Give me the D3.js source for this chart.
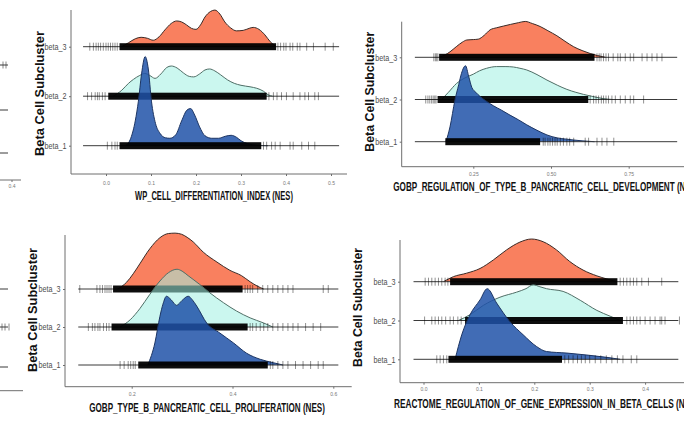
<!DOCTYPE html>
<html><head><meta charset="utf-8">
<script src="https://cdn.jsdelivr.net/npm/d3@7"></script>
<style>body{margin:0;background:#fff;}svg{display:block;}</style>
</head><body>
<svg id="chart" width="684" height="423"></svg>
<script>
// ---------------- DATA ----------------
const categories = ["beta_1", "beta_2", "beta_3"];

// Panel titles
const titleP1 = "WP_CELL_DIFFERENTIATION_INDEX (NES)";
const titleP2 = "GOBP_REGULATION_OF_TYPE_B_PANCREATIC_CELL_DEVELOPMENT (NES)";
const titleP3 = "GOBP_TYPE_B_PANCREATIC_CELL_PROLIFERATION (NES)";
const titleP4 = "REACTOME_REGULATION_OF_GENE_EXPRESSION_IN_BETA_CELLS (NES)";
const yTitle = "Beta Cell Subcluster";

// Tick values
const ticksP1 = [0.0, 0.1, 0.2, 0.3, 0.4, 0.5];
const ticksP2 = [0.25, 0.50, 0.75];
const ticksP3 = [0.2, 0.4, 0.6];
const ticksP4 = [0.0, 0.1, 0.2, 0.3, 0.4];

// Density ridges: [NES, density height in ridge-row units]
const p1Beta1 = [[0.044,0],[0.055,0.15],[0.065,0.5],[0.072,0.9],[0.079,1.45],[0.087,1.8],[0.094,1.55],[0.101,0.9],[0.11,0.45],[0.12,0.25],[0.132,0.16],[0.142,0.15],[0.155,0.22],[0.168,0.5],[0.18,0.72],[0.188,0.75],[0.197,0.62],[0.208,0.38],[0.22,0.2],[0.235,0.15],[0.25,0.15],[0.265,0.19],[0.278,0.21],[0.29,0.17],[0.30,0.1],[0.315,0.04],[0.335,0.01],[0.36,0]];
const p1Beta2 = [[0.016,0],[0.035,0.12],[0.05,0.26],[0.061,0.34],[0.075,0.42],[0.086,0.46],[0.097,0.42],[0.109,0.36],[0.122,0.45],[0.135,0.58],[0.145,0.61],[0.158,0.57],[0.172,0.47],[0.185,0.4],[0.195,0.39],[0.208,0.45],[0.22,0.53],[0.23,0.55],[0.242,0.51],[0.255,0.43],[0.27,0.33],[0.285,0.26],[0.3,0.22],[0.32,0.19],[0.335,0.16],[0.35,0.1],[0.36,0.03],[0.37,0]];
const p1Beta3 = [[0.035,0],[0.05,0.08],[0.065,0.16],[0.078,0.19],[0.092,0.17],[0.105,0.13],[0.118,0.2],[0.131,0.34],[0.145,0.47],[0.157,0.52],[0.168,0.5],[0.179,0.44],[0.19,0.37],[0.2,0.35],[0.21,0.44],[0.22,0.6],[0.232,0.71],[0.242,0.74],[0.253,0.66],[0.264,0.5],[0.277,0.38],[0.29,0.32],[0.305,0.33],[0.318,0.37],[0.327,0.39],[0.34,0.35],[0.353,0.24],[0.365,0.1],[0.378,0]];

const p2Beta1 = [[0.162,0],[0.175,0.35],[0.191,0.99],[0.203,1.35],[0.212,1.62],[0.225,1.8],[0.235,1.55],[0.245,1.29],[0.258,1.17],[0.272,1.07],[0.29,0.97],[0.315,0.85],[0.34,0.75],[0.368,0.63],[0.395,0.52],[0.422,0.4],[0.455,0.27],[0.487,0.16],[0.52,0.09],[0.55,0.06],[0.573,0.04],[0.6,0.02],[0.64,0]];
const p2Beta2 = [[0.148,0],[0.17,0.17],[0.196,0.38],[0.22,0.5],[0.25,0.6],[0.27,0.68],[0.293,0.74],[0.325,0.78],[0.355,0.78],[0.379,0.77],[0.4,0.74],[0.422,0.7],[0.455,0.59],[0.487,0.46],[0.52,0.34],[0.551,0.24],[0.58,0.17],[0.605,0.12],[0.635,0.07],[0.669,0.02],[0.7,0]];
const p2Beta3 = [[0.14,0],[0.16,0.06],[0.175,0.13],[0.195,0.25],[0.215,0.36],[0.229,0.41],[0.25,0.42],[0.266,0.43],[0.285,0.52],[0.304,0.65],[0.325,0.7],[0.347,0.74],[0.37,0.78],[0.395,0.82],[0.417,0.85],[0.44,0.8],[0.465,0.73],[0.49,0.63],[0.519,0.51],[0.545,0.38],[0.573,0.25],[0.6,0.16],[0.626,0.09],[0.65,0.04],[0.675,0]];

const p3Beta1 = [[0.232,0],[0.246,0.58],[0.256,1.28],[0.262,1.6],[0.269,1.81],[0.278,1.72],[0.289,1.57],[0.3,1.7],[0.312,1.81],[0.32,1.72],[0.329,1.55],[0.349,1.1],[0.375,0.84],[0.402,0.58],[0.428,0.31],[0.455,0.15],[0.481,0.06],[0.5,0]];
const p3Beta2 = [[0.177,0],[0.197,0.19],[0.216,0.48],[0.236,0.86],[0.256,1.21],[0.273,1.43],[0.29,1.52],[0.3,1.47],[0.312,1.35],[0.335,1.12],[0.355,0.9],[0.382,0.64],[0.408,0.42],[0.435,0.24],[0.461,0.11],[0.48,0]];
const p3Beta3 = [[0.172,0],[0.19,0.18],[0.203,0.4],[0.216,0.66],[0.236,1.06],[0.256,1.35],[0.273,1.46],[0.286,1.47],[0.299,1.44],[0.31,1.36],[0.322,1.24],[0.342,0.97],[0.369,0.71],[0.395,0.49],[0.418,0.35],[0.435,0.19],[0.45,0.07],[0.462,0]];

const p4Beta1 = [[0.057,0],[0.069,0.63],[0.084,1.15],[0.102,1.53],[0.115,1.82],[0.132,1.45],[0.156,0.97],[0.18,0.63],[0.204,0.33],[0.222,0.2],[0.259,0.16],[0.295,0.11],[0.331,0.05],[0.355,0]];
const p4Beta2 = [[0.063,0],[0.084,0.15],[0.108,0.39],[0.138,0.6],[0.168,0.73],[0.185,0.82],[0.198,0.92],[0.21,0.87],[0.222,0.82],[0.252,0.75],[0.283,0.52],[0.313,0.26],[0.337,0.11],[0.355,0]];
const p4Beta3 = [[0.036,0],[0.054,0.13],[0.078,0.22],[0.102,0.34],[0.126,0.56],[0.15,0.82],[0.174,1.02],[0.195,1.1],[0.216,1.03],[0.24,0.82],[0.264,0.52],[0.288,0.3],[0.313,0.15],[0.331,0.07],[0.349,0]];

// Baseline extents (full data range of each panel)
const rangeP1 = [-0.051, 0.518];
const rangeP2 = [0.062, 0.906];
const rangeP3 = [0.094, 0.61];
const rangeP4 = [-0.018, 0.46];

// Rug: solid (overplotted) band extents and sparse individual points
const p1Band = [[0.03, 0.345], [0.005, 0.357], [0.03, 0.378]];
const p1Rug1 = [0.003,0.013,0.02,0.025,0.35,0.357,0.368,0.376,0.387,0.409,0.416,0.435,0.45,0.464];
const p1Rug2 = [-0.041,-0.032,-0.024,-0.019,-0.015,-0.008,-0.002,0.362,0.372,0.38,0.39,0.401,0.416,0.431,0.442,0.45,0.464,0.472];
const p1Rug3 = [-0.036,-0.028,-0.022,-0.017,-0.012,-0.006,0.0,0.005,0.01,0.015,0.02,0.025,0.382,0.388,0.395,0.4,0.409,0.415,0.425,0.431,0.446,0.461,0.487,0.505];

const p2Band = [[0.16, 0.465], [0.135, 0.62], [0.14, 0.64]];
const p2Rug1 = [0.475,0.481,0.49,0.497,0.505,0.513,0.52,0.53,0.54,0.551,0.56,0.573,0.61,0.621,0.648,0.664,0.68,0.702];
const p2Rug2 = [0.097,0.104,0.11,0.116,0.121,0.126,0.13,0.626,0.637,0.645,0.653,0.662,0.669,0.677,0.685,0.696,0.707,0.723,0.739,0.755,0.766,0.798];
const p2Rug3 = [0.123,0.128,0.132,0.136,0.648,0.655,0.661,0.669,0.677,0.685,0.7,0.715,0.723,0.739,0.755,0.766,0.793,0.809,0.825,0.841,0.857];

const p3Band = [[0.213, 0.47], [0.16, 0.43], [0.163, 0.42]];
const p3Rug1 = [0.177,0.185,0.193,0.198,0.203,0.207,0.475,0.48,0.49,0.5,0.51,0.525,0.54,0.555,0.57,0.58];
const p3Rug2 = [0.114,0.122,0.127,0.133,0.137,0.144,0.15,0.155,0.435,0.44,0.447,0.455,0.462,0.47,0.48,0.49,0.5,0.51,0.52,0.53,0.545,0.56,0.575];
const p3Rug3 = [0.097,0.131,0.137,0.142,0.147,0.151,0.155,0.159,0.425,0.43,0.435,0.44,0.45,0.46,0.47,0.48,0.49,0.5,0.51,0.52,0.58,0.59];

const p4Band = [[0.045, 0.25], [0.075, 0.36], [0.048, 0.35]];
const p4Rug1 = [0.024,0.03,0.036,0.042,0.255,0.262,0.27,0.278,0.285,0.292,0.3,0.31,0.32,0.33,0.34,0.35,0.36,0.375,0.385];
const p4Rug2 = [0.002,0.015,0.021,0.027,0.033,0.04,0.048,0.054,0.062,0.068,0.367,0.373,0.379,0.385,0.391,0.4,0.409,0.418,0.427,0.43,0.436,0.462];
const p4Rug3 = [0.003,0.009,0.015,0.021,0.027,0.033,0.039,0.044,0.355,0.361,0.367,0.373,0.379,0.385,0.394,0.406,0.43];

// Partial rows of neighbouring panels visible at the left edge
const stubRowsTop = [65, 110, 153];
const stubRowsBottom = [289, 327, 367];

// ---------------- DRAWING ----------------
const svg = d3.select("#chart");
const fills = ["#2052a8", "#a0f0e1", "#f9805f"];
const fillOpacity = [0.85, 0.55, 1];
const strokes = ["#1d3563", "#4f6e66", "#3a2a26"];

const panels = [
  {dens:[p1Beta1,p1Beta2,p1Beta3], bands:p1Band, rugs:[p1Rug1,p1Rug2,p1Rug3], range:rangeP1, ticks:ticksP1, fmt:d3.format(".1f"),
   xd:[0,0.5], xr:[106,331], base:[145.7,46.7], axX:[71,347], axY:[10,174], tickPad:5,
   title:titleP1, tx:135, ty:200, tlen:158, ytx:40, yty:93.5, ytlen:125},
  {dens:[p2Beta1,p2Beta2,p2Beta3], bands:p2Band, rugs:[p2Rug1,p2Rug2,p2Rug3], range:rangeP2, ticks:ticksP2, fmt:d3.format(".2f"),
   xd:[0.25,0.75], xr:[473.3,628.7], base:[141.7,57.3], axX:[401.7,684], axY:[21.7,166.7], tickPad:4,
   title:titleP2, tx:393.3, ty:191, tlen:306, ytx:370, yty:91.7, ytlen:120},
  {dens:[p3Beta1,p3Beta2,p3Beta3], bands:p3Band, rugs:[p3Rug1,p3Rug2,p3Rug3], range:rangeP3, ticks:ticksP3, fmt:d3.format(".1f"),
   xd:[0.2,0.6], xr:[131.7,333.3], base:[365,289], axX:[65,351.7], axY:[235,386.7], tickPad:4,
   title:titleP3, tx:89.3, ty:412, tlen:236, ytx:33, yty:310, ytlen:124},
  {dens:[p4Beta1,p4Beta2,p4Beta3], bands:p4Band, rugs:[p4Rug1,p4Rug2,p4Rug3], range:rangeP4, ticks:ticksP4, fmt:d3.format(".1f"),
   xd:[0.0,0.4], xr:[423.5,645.1], base:[359.3,281.7], axX:[400,684], axY:[240,382.7], tickPad:2.5,
   title:titleP4, tx:394, ty:408, tlen:305, ytx:358.3, yty:307.5, ytlen:119}
];

const axisColor = "#6e6e6e";
const font = "'Liberation Sans', Arial, sans-serif";

// squeeze a text horizontally (in its own frame) to a target length
function squeeze(sel, target) {
  const n = sel.node();
  const nat = n.getComputedTextLength();
  const kx = target / nat;
  const prev = sel.attr("transform") || "";
  sel.attr("transform", prev + ` scale(${kx},1)`);
}

panels.forEach(p => {
  const g = svg.append("g");
  const x = d3.scaleLinear().domain(p.xd).range(p.xr);
  const y = d3.scaleLinear().domain([0, 2]).range(p.base);

  g.append("line").attr("x1", p.axX[0]).attr("x2", p.axX[1]).attr("y1", p.axY[1]).attr("y2", p.axY[1])
    .attr("stroke", axisColor).attr("stroke-width", 1);
  g.append("line").attr("x1", p.axX[0]).attr("x2", p.axX[0]).attr("y1", p.axY[0]).attr("y2", p.axY[1])
    .attr("stroke", axisColor).attr("stroke-width", 1);

  for (let i = 2; i >= 0; i--) {
    const area = d3.area().x(d => x(d[0])).y0(y(i)).y1(d => y(i + d[1])).curve(d3.curveMonotoneX);
    const line = d3.line().x(d => x(d[0])).y(d => y(i + d[1])).curve(d3.curveMonotoneX);
    g.append("path").datum(p.dens[i]).attr("d", area)
      .attr("fill", fills[i]).attr("fill-opacity", fillOpacity[i]);
    g.append("path").datum(p.dens[i]).attr("d", line)
      .attr("fill", "none").attr("stroke", strokes[i]).attr("stroke-width", 1);
    g.append("line").attr("x1", x(p.range[0])).attr("x2", x(p.range[1]))
      .attr("y1", y(i)).attr("y2", y(i)).attr("stroke", "#3a3a3a").attr("stroke-width", 1);
    g.append("rect").attr("x", x(p.bands[i][0])).attr("width", x(p.bands[i][1]) - x(p.bands[i][0]))
      .attr("y", y(i) - 3.5).attr("height", 7).attr("fill", "#000").attr("fill-opacity", 0.95);
    g.selectAll(null).data(p.rugs[i]).enter().append("line")
      .attr("x1", d => x(d)).attr("x2", d => x(d))
      .attr("y1", y(i) - 4).attr("y2", y(i) + 4)
      .attr("stroke", "#000").attr("stroke-opacity", 0.55).attr("stroke-width", 0.8);
  }

  const xa = g.append("g").attr("transform", `translate(0,${p.axY[1]})`)
    .call(d3.axisBottom(x).tickValues(p.ticks).tickFormat(p.fmt).tickSize(2).tickPadding(p.tickPad));
  xa.select(".domain").remove();
  xa.selectAll("line").attr("stroke", axisColor);
  xa.selectAll("text").attr("fill", "#777").style("font-size", "5px").style("font-family", font);

  const ya = g.append("g").attr("transform", `translate(${p.axX[0]},0)`)
    .call(d3.axisLeft(y).tickValues([0, 1, 2]).tickFormat(i => categories[i]).tickSize(2).tickPadding(2.5));
  ya.select(".domain").remove();
  ya.selectAll("line").attr("stroke", axisColor);
  ya.selectAll("text").attr("fill", "#4d4d4d").style("font-size", "8.5px").style("font-family", font)
    .each(function() {
      const s = d3.select(this);
      const nat = this.getComputedTextLength();
      const xx = +s.attr("x");
      s.attr("x", null).attr("transform", `translate(${xx},0) scale(${22 / nat},1)`);
    });

  const t = g.append("text").attr("transform", `translate(${p.tx},${p.ty})`).text(p.title)
    .style("font-family", font).style("font-weight", "bold").style("font-size", "13.5px").attr("fill", "#111");
  squeeze(t, p.tlen);

  const yt = g.append("text").attr("transform", `translate(${p.ytx},${p.yty}) rotate(-90)`)
    .attr("text-anchor", "middle").attr("dominant-baseline", "central").text(yTitle)
    .style("font-family", font).style("font-weight", "bold")
    .style("font-size", "12.5px").attr("fill", "#111");
  squeeze(yt, p.ytlen);
});

// left-edge partial panels
const stub = svg.append("g").attr("stroke", "#3a3a3a").attr("stroke-width", 1);
stubRowsTop.concat(stubRowsBottom).forEach(yy => {
  stub.append("line").attr("x1", 0).attr("x2", 8).attr("y1", yy).attr("y2", yy);
});
[[3,65],[6,65],[2,327],[5,327],[9,327]].forEach(d => {
  stub.append("line").attr("x1", d[0]).attr("x2", d[0]).attr("y1", d[1] - 3.5).attr("y2", d[1] + 3.5).attr("stroke-opacity", 0.6);
});
svg.append("line").attr("x1", 0).attr("x2", 21).attr("y1", 180).attr("y2", 180).attr("stroke", axisColor);
svg.append("line").attr("x1", 12).attr("x2", 12).attr("y1", 180).attr("y2", 182).attr("stroke", axisColor);
svg.append("text").attr("x", 12).attr("y", 188).attr("text-anchor", "middle").text("0.4")
  .attr("fill", "#777").style("font-size", "5px").style("font-family", font);
svg.append("line").attr("x1", 0).attr("x2", 23).attr("y1", 390.7).attr("y2", 390.7).attr("stroke", axisColor);
</script>
</body></html>
